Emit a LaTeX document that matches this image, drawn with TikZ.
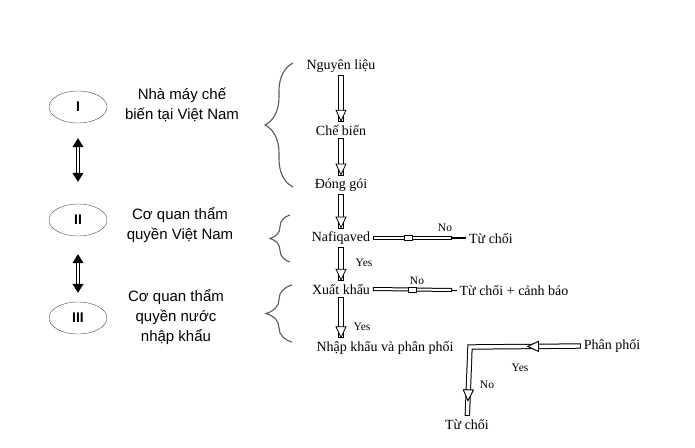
\documentclass[tikz,border=0pt]{standalone}
\usepackage{fontspec}
\setmainfont{Liberation Serif}
\newfontfamily\arialf{Liberation Sans}
\usetikzlibrary{positioning,arrows.meta,shapes,decorations.pathreplacing,decorations.markings}

\begin{document}
\begin{tikzpicture}[x=1pt, y=-1pt,
  org/.style={ellipse, draw=black!70, thin, minimum width=58pt, minimum height=32pt,
              font=\arialf\bfseries\fontsize{14}{16}\selectfont},
  who/.style={font=\arialf\fontsize{15}{20}\selectfont, align=center},
  st/.style={font=\fontsize{14}{16}\selectfont, inner sep=1pt, outer sep=2pt},
  lb/.style={font=\fontsize{11.5}{13}\selectfont, inner sep=1pt},
  hol/.style={draw=black, line width=5.4pt, line join=miter,
              postaction={draw=white, line width=3.4pt, shorten <=1pt, shorten >=1pt}},
  holn/.style={draw=black, line width=4pt,
              postaction={draw=white, line width=2pt, shorten <=1pt, shorten >=1pt}},
  tip/.style={postaction=decorate, decoration={markings,
             mark=at position #1 with {\arrow{Triangle[fill=white, line width=0.8pt, length=12pt, width=11pt]}}}},
  dn/.style={hol, tip=1},
  bi/.style={double=white, double distance=2pt, line width=1pt,
             {Triangle[length=9pt, width=11pt]}-{Triangle[length=9pt, width=11pt]}},
  nobox/.style={draw, fill=white, line width=0.8pt, minimum width=8pt, minimum height=5pt, inner sep=0pt},
  brc/.style={draw=black!65, line width=1.1pt, decorate, decoration={brace, amplitude=#1}},
]
\useasboundingbox[fill=white] (0,0) rectangle (695,447);

% left column
\node[org] (E1) at (78,107) {I};
\node[org] (E2) at (78,220) {II};
\node[org] (E3) at (78,318) {III};
\node[who] (W1) at (182,105) {Nhà máy chế\\biến tại Việt Nam};
\node[who] (W2) at (180,225) {Cơ quan thẩm\\quyền Việt Nam};
\node[who] (W3) at (176,317) {Cơ quan thẩm\\quyền nước\\nhập khẩu};
\draw[bi, shorten <=15pt, shorten >=22pt] (E1) -- (E2);
\draw[bi, shorten <=18pt, shorten >=9pt] (E2) -- (E3);

% braces
\draw[brc=28] (293,187) -- (293,63);
\draw[brc=20] (290,262) -- (290,215);
\draw[brc=26] (292,342) -- (292,285);

% flow
\node[st] (NL) at (341,66)  {Nguyên liệu};
\node[st] (CB) at (341,130) {Chế biến};
\node[st] (DG) at (341,185) {Đóng gói};
\node[st] (NF) at (341,238) {Nafiqaved};
\node[st] (XK) at (341,289) {Xuất khẩu};
\node[st] (NK) at (385,348) {Nhập khẩu và phân phối};
\node[st] (PP) at (612,346) {Phân phối};
\node[st] (TC) at (467,424) {Từ chối};
\node[st] (T1) at (491,238) {Từ chối};
\node[st] (T2) at (514,290) {Từ chối + cảnh báo};
\coordinate (n1) at (452,238);
\coordinate (n2) at (452,290);
\coordinate (cn) at (470,347);

\draw[dn] (NL.south) -- (CB.north);
\draw[dn] (CB.south) -- (DG.north);
\draw[dn] (DG.south) -- (NF.north);
\draw[dn] (NF.south) -- (XK.north);
\draw[dn] (XK.south) -- (XK.south |- NK.north);

\draw[holn] (NF.east) -- node[nobox, pos=0.45]{} (n1);
\draw[line width=1.3pt] (n1) -- (T1);
\draw[holn] (XK.east) -- node[nobox, pos=0.5]{} (n2);
\draw[thin] (n2) -- (T2);
\draw[hol, tip=0.3, tip=0.92] (PP.west) -- (cn) -- (TC);

\node[lb] at (445,228) {No};
\node[lb] at (417,281) {No};
\node[lb] at (364,263) {Yes};
\node[lb] at (362,327) {Yes};
\node[lb] at (520,368) {Yes};
\node[lb] at (487,385) {No};
\end{tikzpicture}
\end{document}
